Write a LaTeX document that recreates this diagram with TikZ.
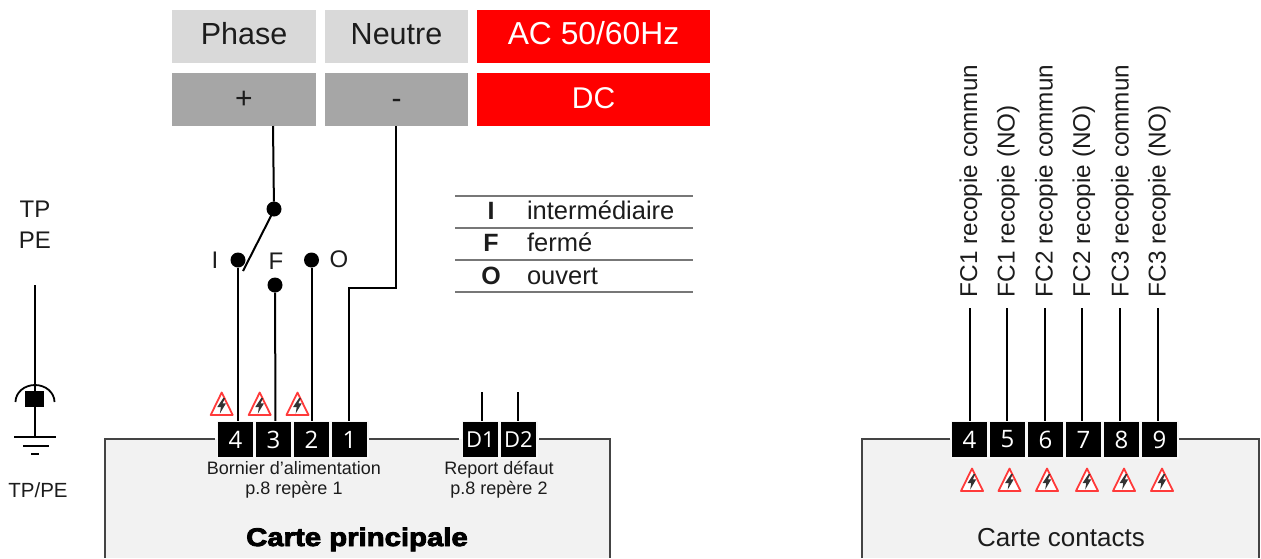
\documentclass[tikz,border=0pt]{standalone}
\usepackage{fontspec}
\setmainfont{Liberation Sans}
\newfontfamily\termfont{Open Sans}
\newfontfamily\heavyfont[BoldFont={Liberation Sans Bold},BoldFeatures={FakeBold=3.4,FakeStretch=1.15}]{Liberation Sans}
\newcommand{\fs}[1]{\fontsize{#1}{#1}\selectfont}
\definecolor{inktxt}{HTML}{1C1C1C}
\definecolor{boxlight}{HTML}{D9D9D9}
\definecolor{boxdark}{HTML}{A6A6A6}
\definecolor{boxred}{HTML}{FF0000}
\definecolor{board}{HTML}{F2F2F2}
\definecolor{halo}{HTML}{F7F7F7}
\definecolor{boardline}{HTML}{444444}
\definecolor{rule}{HTML}{777777}
\definecolor{warnred}{HTML}{FF3A3A}
\definecolor{boltgrey}{HTML}{333333}
\tikzset{
  x=1pt,y=-1pt,
  every node/.style={inner sep=0pt,outer sep=0pt,text=inktxt},
  headbox/.style={rectangle,minimum height=53,text height=17,text depth=0,font=\fs{30}},
  terminal/.style={rectangle,fill=black,draw=halo,line width=1.5,minimum width=36.5,minimum height=36.5,text=white,font=\termfont\fs{24}},
  wire/.style={draw=black,line width=2},
  dot/.style={circle,fill=black,minimum size=15},
  lbl/.style={anchor=base,font=\fs{24}},
  small/.style={anchor=base,font=\fs{18},align=center},
  legtext/.style={anchor=base west,font=\fs{25.5}},
  legkey/.style={anchor=base,font=\bfseries\fs{25}},
  legrule/.style={draw=rule,line width=1.4},
  vert/.style={rotate=90,anchor=base west,font=\fs{24.3}},
  boardedge/.style={draw=boardline,line width=1.2},
  warn/.pic={
    \path[fill=white,draw=warnred,line width=1.8,line join=round] (0,-11.5)--(-11,11)--(11,11)--cycle;
    \path[fill=boltgrey] (1.6,-6)--(-4.4,3)--(-0.8,3)--(-1.8,9.5)--(4.2,-0.6)--(0.8,-0.6)--(3.4,-6)--cycle;
  }
}
\begin{document}
\begin{tikzpicture}
\useasboundingbox (0,0) rectangle (1261,558);
% boards
\fill[board] (105,439) rectangle (610,558);
\fill[board] (862,439) rectangle (1259,558);
\coordinate (bl) at (105,558); \coordinate (blc) at (105,439);
\coordinate (bla) at (215,439); \coordinate (blb) at (369,439);
\coordinate (blc2) at (459,439); \coordinate (bld) at (539,439);
\coordinate (ble) at (610,439); \coordinate (blf) at (610,558);
\draw[boardedge] (bl)--(blc)--(bla);
\draw[boardedge] (blb)--(blc2);
\draw[boardedge] (bld)--(ble)--(blf);
\coordinate (cl) at (862,558); \coordinate (clc) at (862,439);
\coordinate (cla) at (950,439); \coordinate (clb) at (1179,439);
\coordinate (cle) at (1259,439); \coordinate (clf) at (1259,558);
\draw[boardedge] (cl)--(clc)--(cla);
\draw[boardedge] (clb)--(cle)--(clf);
% header boxes
\node[headbox,fill=boxlight,minimum width=144] (phase) at (244,36) {\fs{30.5}Phase};
\node[headbox,fill=boxlight,minimum width=143] (neutre) at (396.5,36) {\fs{30.5}Neutre};
\node[headbox,fill=boxred,minimum width=233,text=white] (ac) at (593.5,36) {\fs{31.8}AC 50/60Hz};
\node[headbox,fill=boxdark,minimum width=144] (plus) at (244,99.5) {+};
\node[headbox,fill=boxdark,minimum width=143] (minus) at (396.5,99.5) {-};
\node[headbox,fill=boxred,minimum width=233,text=white] (dc) at (593.5,99.5) {DC};
% switch dots
\node[dot] (dcom) at (274,209) {};
\node[dot] (dI) at (238,260) {};
\node[dot] (dF) at (275,285) {};
\node[dot] (dO) at (311.5,260) {};
\coordinate (arma) at (272,214);
\coordinate (armb) at (243,271);
\coordinate (plusdrop) at (273,126);
\coordinate (minusdrop) at (396,126);
\coordinate (njog1) at (396,288);
\coordinate (njog2) at (349,288);
% terminals left: wires first, terminals on top
\coordinate (w4) at (238,424); \coordinate (w3) at (275.5,424);
\coordinate (w2) at (311.5,424); \coordinate (w1) at (349,424);
\draw[wire] (plusdrop)--(dcom);
\draw[wire] (arma)--(armb);
\draw[wire] (dI)--(w4);
\draw[wire] (dF)--(w3);
\draw[wire] (dO)--(w2);
\draw[wire] (minusdrop)--(njog1)--(njog2)--(w1);
\coordinate (dt1) at (482,392); \coordinate (dt2) at (518,392);
\coordinate (dw1) at (482,424); \coordinate (dw2) at (518,424);
\draw[wire] (dt1)--(dw1);
\draw[wire] (dt2)--(dw2);
\node[terminal] (t4) at (235.5,439.5) {4};
\node[terminal] (t3) at (273.5,439.5) {3};
\node[terminal] (t2) at (311.5,439.5) {2};
\node[terminal] (t1) at (349.5,439.5) {1};
\node[terminal] (td1) at (480.5,439.5) {\fs{22}D1};
\node[terminal] (td2) at (518.5,439.5) {\fs{22}D2};
% switch labels
\node[lbl] (lI) at (215,268) {I};
\node[lbl] (lF) at (276,269) {F};
\node[lbl] (lO) at (339,267) {O};
% earth
\node[lbl] (tp) at (35,217) {TP};
\node[lbl] (pe) at (35,248) {PE};
\coordinate (eartha) at (35,285);
\coordinate (earthb) at (35,437);
\draw[wire] (eartha)--(earthb);
\draw[draw=black,line width=1.8] (15.5,402) arc[start angle=180,end angle=0,x radius=19.5,y radius=-17];
\node[fill=black,minimum width=19,minimum height=16] (earthbox) at (34.5,399) {};
\coordinate (g1a) at (14,437); \coordinate (g1b) at (56,437);
\coordinate (g2a) at (23,445.5); \coordinate (g2b) at (49,445.5);
\coordinate (g3a) at (31,453.5); \coordinate (g3b) at (39,453.5);
\draw[wire] (g1a)--(g1b);
\draw[wire] (g2a)--(g2b);
\draw[wire] (g3a)--(g3b);
\node[anchor=base,font=\fs{20.5}] (tppe) at (38,497) {TP/PE};
% board texts
\node[small] (bor) at (294,474) {Bornier d’alimentation};
\node[small] (borp) at (294,494) {p.8 repère 1};
\node[small] (rep) at (499,474) {Report défaut};
\node[small] (repp) at (499,494) {p.8 repère 2};
\node[anchor=base,font=\heavyfont\bfseries\fs{25.5},text=black] (cp) at (357,546) {Carte principale};
\node[anchor=base,font=\fs{26}] (cc) at (1061,546) {Carte contacts};
% legend
\coordinate (r1a) at (455,196); \coordinate (r1b) at (693,196);
\coordinate (r2a) at (455,228); \coordinate (r2b) at (693,228);
\coordinate (r3a) at (455,260); \coordinate (r3b) at (693,260);
\coordinate (r4a) at (455,292); \coordinate (r4b) at (693,292);
\draw[legrule] (r1a)--(r1b);
\draw[legrule] (r2a)--(r2b);
\draw[legrule] (r3a)--(r3b);
\draw[legrule] (r4a)--(r4b);
\node[legkey] (kI) at (491,219) {I};
\node[legkey] (kF) at (491,251) {F};
\node[legkey] (kO) at (491,284) {O};
\node[legtext] (tI) at (527,219) {intermédiaire};
\node[legtext] (tF) at (527,251) {fermé};
\node[legtext] (tO) at (527,284) {ouvert};
% warnings
\pic at (221.7,404) {warn};
\pic at (259.7,404) {warn};
\pic at (297.5,404) {warn};
\pic at (972,480) {warn};
\pic at (1009.5,480) {warn};
\pic at (1047,480) {warn};
\pic at (1087,480) {warn};
\pic at (1124,480) {warn};
\pic at (1162,480) {warn};
% contact card
\coordinate (c4) at (970,308); \coordinate (c5) at (1007,308);
\coordinate (c6) at (1044.5,308); \coordinate (c7) at (1082,308);
\coordinate (c8) at (1120,308); \coordinate (c9) at (1158,308);
\coordinate (e4) at (970,424); \coordinate (e5) at (1007,424);
\coordinate (e6) at (1044.5,424); \coordinate (e7) at (1082,424);
\coordinate (e8) at (1120,424); \coordinate (e9) at (1158,424);
\draw[wire] (c4)--(e4);
\draw[wire] (c5)--(e5);
\draw[wire] (c6)--(e6);
\draw[wire] (c7)--(e7);
\draw[wire] (c8)--(e8);
\draw[wire] (c9)--(e9);
\node[terminal] (k4) at (969.5,439.5) {4};
\node[terminal] (k5) at (1007.5,439.5) {5};
\node[terminal] (k6) at (1045.5,439.5) {6};
\node[terminal] (k7) at (1083.5,439.5) {7};
\node[terminal] (k8) at (1121.5,439.5) {8};
\node[terminal] (k9) at (1159.5,439.5) {9};
\node[vert] (v4) at (977,297) {FC1 recopie commun};
\node[vert] (v5) at (1014.5,297) {FC1 recopie (NO)};
\node[vert] (v6) at (1052.5,297) {FC2 recopie commun};
\node[vert] (v7) at (1090,297) {FC2 recopie (NO)};
\node[vert] (v8) at (1128.5,297) {FC3 recopie commun};
\node[vert] (v9) at (1165.5,297) {FC3 recopie (NO)};
\end{tikzpicture}
\end{document}
